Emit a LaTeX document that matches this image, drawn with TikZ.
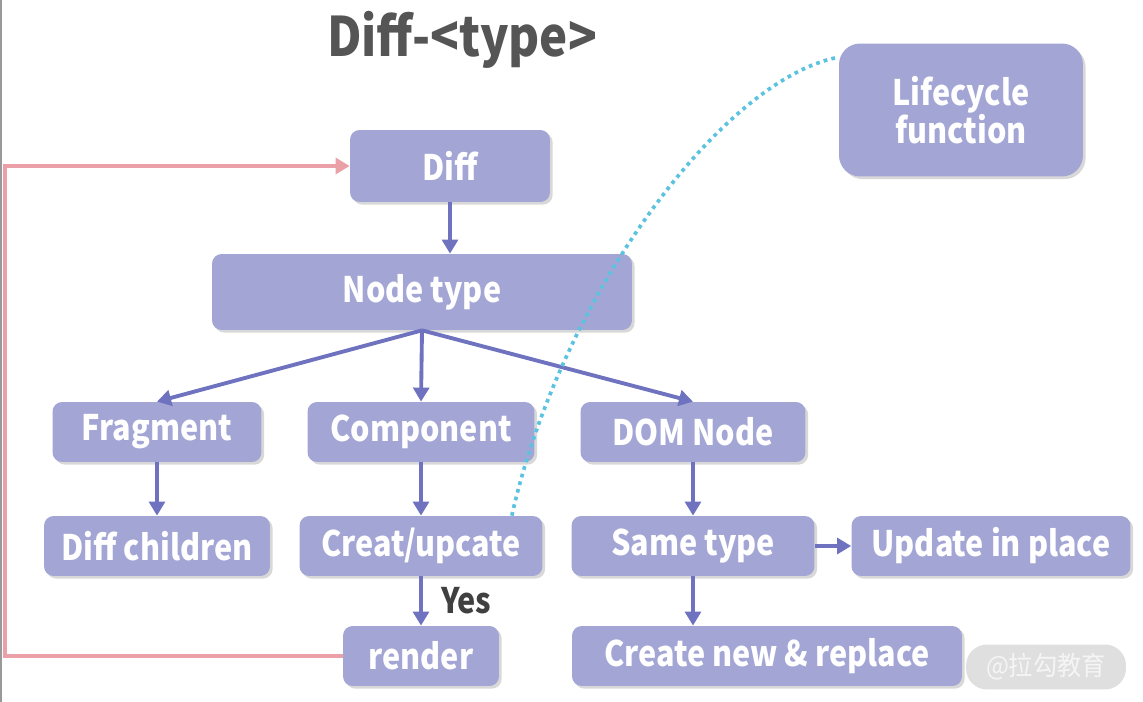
\documentclass[tikz,border=0pt]{standalone}
\usepackage{fontspec}
\setmainfont{Noto Sans CJK SC}
\newfontfamily\boxfont{Noto Sans CJK SC}[FakeStretch=0.87]
\newfontfamily\markfont{Noto Sans CJK SC}[FakeStretch=0.92]
\usetikzlibrary{arrows.meta,shadows}
\definecolor{boxfill}{HTML}{A3A6D5}
\definecolor{arrowcol}{HTML}{6E72BF}
\definecolor{loopcol}{HTML}{EBA0A8}
\definecolor{hookcol}{HTML}{5BC3DF}
\definecolor{titlecol}{HTML}{555555}
\begin{document}
\begin{tikzpicture}[
            x=0.02cm, y=-0.02cm,
            step box/.style={rectangle, rounded corners=5.5pt, fill=boxfill, text=white, inner sep=0pt,
                minimum height=1.2cm, font=\boxfont\bfseries\fontsize{20}{24}\selectfont,
                drop shadow={shadow xshift=1.5pt, shadow yshift=-1.5pt, opacity=0.3}},
            flow/.style={-{Triangle[length=8pt,width=9pt]}, draw=arrowcol, line width=2.2pt},
            loop line/.style={-{Triangle[length=8pt,width=9pt]}, draw=loopcol, line width=2.2pt},
            hook line/.style={draw=hookcol, line width=2.1pt, dash pattern=on 2.1pt off 2.4pt},
            every node/.style={align=center}
    ]
        \useasboundingbox (0,0) rectangle (1143,702);
        \fill[white] (0,0) rectangle (1143,702);
        \draw[gray!80, line width=1.5pt] (1,0) -- (1,702);

        % Title
        \node[text=titlecol, font=\boxfont\bfseries\fontsize{31}{36}\selectfont] (title) at (462,40) {Diff-<type>};

        % Top
        \node[step box, minimum width=4cm, minimum height=1.44cm] (diff) at (450,166) {Diff};
        \node[step box, minimum width=8.4cm, minimum height=1.52cm] (ntype) at (422,292) {Node type};
        \node[step box, rounded corners=12pt, minimum width=4.88cm, minimum height=2.66cm,
              font=\boxfont\bfseries\fontsize{20}{22}\selectfont] (life) at (961,110) {Lifecycle\\function};

        % Node kinds
        \node[step box, minimum width=4.18cm] (frag) at (157,432) {Fragment};
        \node[step box, minimum width=4.54cm] (comp) at (421,432) {Component};
        \node[step box, minimum width=4.5cm] (dom) at (693,432) {DOM Node};

        % Second row
        \node[step box, minimum width=4.52cm] (children) at (157,546) {Diff children};
        \node[step box, minimum width=4.86cm] (creat) at (421,546) {Creat/upcate};
        \node[step box, minimum width=4.86cm] (same) at (693,546) {Same type};
        \node[step box, minimum width=5.58cm] (inplace) at (991,546) {Update in place};

        % Third row
        \node[step box, minimum width=3.12cm] (render) at (421,656) {render};
        \node[step box, minimum width=7.8cm] (replace) at (767,656) {Create new \& replace};

        % Watermark
        \node[rounded corners=12pt, fill=gray!25, text=white!92!gray, minimum width=3.2cm, minimum height=0.9cm,
              font=\markfont\fontsize{15}{18}\selectfont] (mark) at (1046,667) {@拉勾教育};

        \coordinate (left) at (5,400);

        % Arrows
        \draw[flow] (diff.south -| 450,0) -- (ntype.north -| 450,0);
        \draw[flow] (ntype.south) -- (frag.north);
        \draw[flow] (ntype.south) -- (comp.north);
        \draw[flow] (ntype.south) -- (dom.north);

        \draw[flow] (frag) -- (children);
        \draw[flow] (comp) -- (creat);
        \draw[flow] (dom) -- (same);
        \draw[flow] (same) -- (inplace);
        \draw[flow] (same) -- (replace.north -| same.south);
        \draw[flow] (creat) -- node[right, xshift=7pt, text=black!75, font=\boxfont\bfseries\fontsize{20}{24}\selectfont] {Yes} (render);

        \draw[loop line] (render.west) -- (render.west -| left) |- (diff.west);

        \draw[hook line] ([xshift=-0.62cm]creat.north east) .. controls (560,300) and (720,80) .. ([yshift=-0.28cm]life.north west);

    \end{tikzpicture}
\end{document}
